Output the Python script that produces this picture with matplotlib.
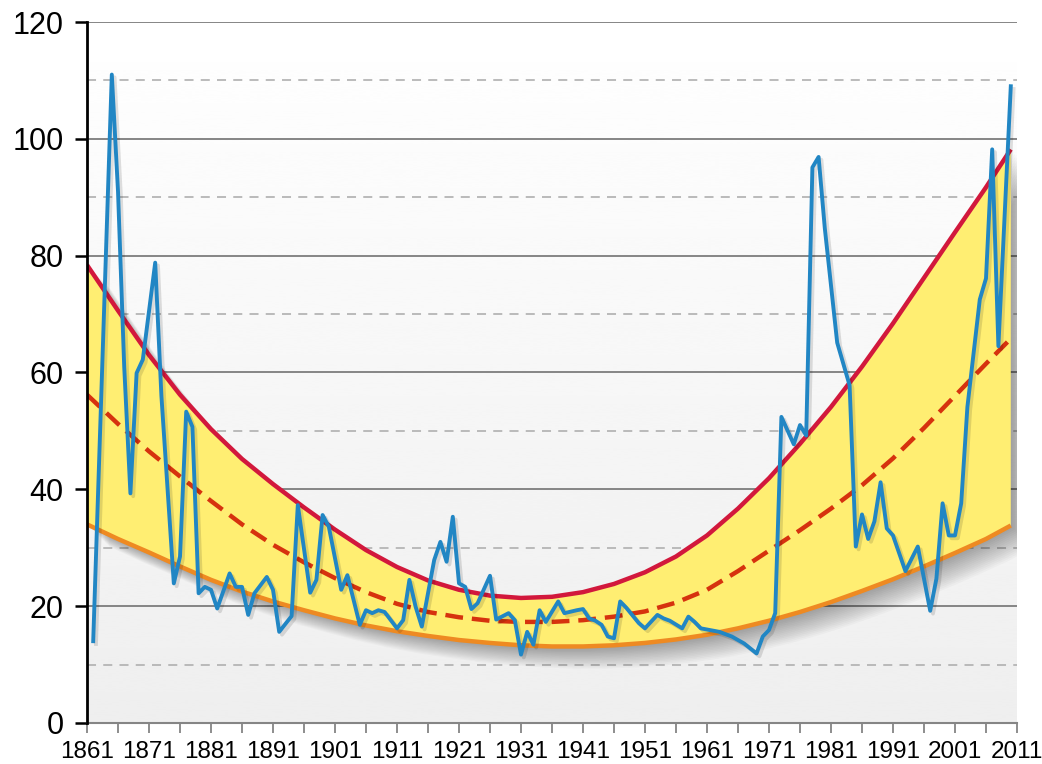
import numpy as np
import matplotlib
matplotlib.use("Agg")
import matplotlib.pyplot as plt
from matplotlib import patheffects as pe
from matplotlib.ticker import FixedLocator

# blue series (vertices)
price_years = [1862, 1865, 1866, 1867, 1868, 1869, 1870, 1872, 1873, 1875, 1876, 1877,
               1878, 1879, 1880, 1881, 1882, 1884, 1885, 1886, 1887, 1888, 1890, 1891,
               1892, 1894, 1895, 1897, 1898, 1899, 1900, 1902, 1903, 1905, 1906, 1907,
               1908, 1909, 1911, 1912, 1913, 1914, 1915, 1917, 1918, 1919, 1920, 1921,
               1922, 1923, 1924, 1926, 1927, 1929, 1930, 1931, 1932, 1933, 1934, 1935,
               1937, 1938, 1940, 1941, 1942, 1943, 1944, 1945, 1946, 1947, 1948, 1950,
               1951, 1953, 1954, 1955, 1957, 1958, 1959, 1960, 1963, 1965, 1967, 1969,
               1970, 1971, 1972, 1973, 1975, 1976, 1977, 1978, 1979, 1980, 1982, 1984,
               1985, 1986, 1987, 1988, 1989, 1990, 1991, 1993, 1995, 1997, 1998, 1999,
               2000, 2001, 2002, 2003, 2005, 2006, 2007, 2008, 2010]
price_vals = [14.0, 111.0, 91.0, 61.0, 39.3, 59.9, 62.2, 78.8, 56.0, 23.9, 28.5, 53.3,
              50.7, 22.2, 23.3, 22.8, 19.6, 25.6, 23.3, 23.3, 18.5, 22.2, 25.0, 22.8,
              15.6, 18.3, 37.3, 22.3, 24.5, 35.6, 33.6, 22.8, 25.3, 16.8, 19.3, 18.8,
              19.3, 19.0, 16.2, 17.6, 24.5, 19.9, 16.5, 27.9, 31.0, 27.6, 35.3, 23.9,
              23.3, 19.5, 20.5, 25.2, 17.7, 18.8, 17.6, 11.7, 15.6, 13.4, 19.3, 17.3,
              20.8, 18.8, 19.3, 19.5, 17.9, 17.5, 16.8, 14.8, 14.5, 20.8, 19.7, 17.1,
              16.2, 18.5, 17.9, 17.5, 16.2, 18.2, 17.3, 16.2, 15.6, 14.8, 13.6, 11.9,
              14.8, 15.9, 18.8, 52.4, 47.7, 51.0, 49.2, 95.1, 96.9, 84.7, 65.1, 57.8,
              30.2, 35.7, 31.5, 34.5, 41.2, 33.3, 32.1, 26.0, 30.2, 19.2, 24.7, 37.6,
              32.1, 32.1, 37.6, 54.1, 72.5, 76.1, 98.2, 64.5, 109.0]

# trend band (read every 5 years)
band_years = [1861, 1866, 1871, 1876, 1881, 1886, 1891, 1896, 1901, 1906, 1911, 1916,
              1921, 1926, 1931, 1936, 1941, 1946, 1951, 1956, 1961, 1966, 1971, 1976,
              1981, 1986, 1991, 1996, 2001, 2006, 2010]
upper = [78.4, 70.6, 63.0, 56.2, 50.3, 45.2, 40.9, 36.9, 33.1, 29.6, 26.7, 24.4,
         22.8, 21.8, 21.4, 21.6, 22.4, 23.8, 25.8, 28.5, 32.1, 36.7, 41.9, 47.8,
         54.1, 61.0, 68.4, 76.2, 84.0, 91.7, 98.2]
middle = [56.2, 51.2, 46.5, 42.2, 38.0, 34.0, 30.5, 27.5, 24.8, 22.4, 20.4, 19.0,
          18.1, 17.5, 17.3, 17.3, 17.6, 18.2, 19.1, 20.6, 22.8, 26.0, 29.5, 33.0,
          36.7, 40.7, 45.3, 50.5, 56.0, 61.5, 65.8]
lower = [34.0, 31.5, 29.2, 26.8, 24.5, 22.5, 20.8, 19.3, 17.9, 16.7, 15.7, 14.9,
         14.2, 13.7, 13.3, 13.1, 13.1, 13.3, 13.7, 14.3, 15.1, 16.2, 17.5, 19.0,
         20.7, 22.6, 24.6, 26.8, 29.1, 31.5, 33.8]

font = ['Liberation Sans Narrow', 'Liberation Sans', 'DejaVu Sans']

fig = plt.figure(figsize=(10.42, 7.64), dpi=100)
ax = fig.add_axes([0.0835, 0.0537, 0.8925, 0.9175])

# background gradient
grad = np.linspace(1.0, 0.935, 256)[:, None]
ax.imshow(grad, cmap='gray', vmin=0, vmax=1, extent=[1861, 2011, 0, 120],
          aspect='auto', zorder=0, interpolation='bicubic')

# grid
for v in range(20, 121, 20):
    ax.axhline(v, color='#858585', lw=1.4, zorder=1)
for v in range(10, 120, 20):
    ax.axhline(v, color='#b5b5b5', lw=1.3, ls=(0, (5, 4)), zorder=1)

# band with soft shadow
shadow = [pe.SimplePatchShadow(offset=(o, -o), shadow_rgbFace='k', alpha=0.025)
          for o in range(1, 17)] + [pe.Normal()]
ax.fill_between(band_years, lower, upper, color='#FFEE72', lw=0, zorder=2,
                path_effects=shadow)
ax.plot(band_years, upper, color='#D2183C', lw=3.2, zorder=3, solid_capstyle='butt')
ax.plot(band_years, lower, color='#EE8A22', lw=3.2, zorder=3, solid_capstyle='butt')
ax.plot(band_years, middle, color='#D6320E', lw=3.2, ls=(0, (4, 2)), zorder=3)

ax.plot(price_years, price_vals, color='#2186C4', lw=2.8, zorder=4,
        solid_joinstyle='round',
        path_effects=[pe.SimpleLineShadow(offset=(2, -2), alpha=0.12), pe.Normal()])

ax.set_xlim(1861, 2011)
ax.set_ylim(0, 120)

ax.set_yticks(range(0, 121, 20))
ax.set_xticks(range(1861, 2012, 10))
ax.xaxis.set_minor_locator(FixedLocator(range(1866, 2011, 10)))

for s in ['top', 'right']:
    ax.spines[s].set_visible(False)
ax.spines['left'].set_color('black')
ax.spines['left'].set_linewidth(2)
ax.spines['bottom'].set_color('#858585')
ax.spines['bottom'].set_linewidth(1.5)
ax.spines['left'].set_zorder(5)

ax.tick_params(axis='y', length=9, width=1.8, color='black', pad=8)
ax.tick_params(axis='x', which='both', length=7, width=1.3, color='#858585', pad=6)

for lab in ax.get_yticklabels():
    lab.set_fontfamily(font)
    lab.set_fontsize(22)
for lab in ax.get_xticklabels():
    lab.set_fontfamily(font)
    lab.set_fontsize(17.5)

fig.savefig('out.png', dpi=100)
